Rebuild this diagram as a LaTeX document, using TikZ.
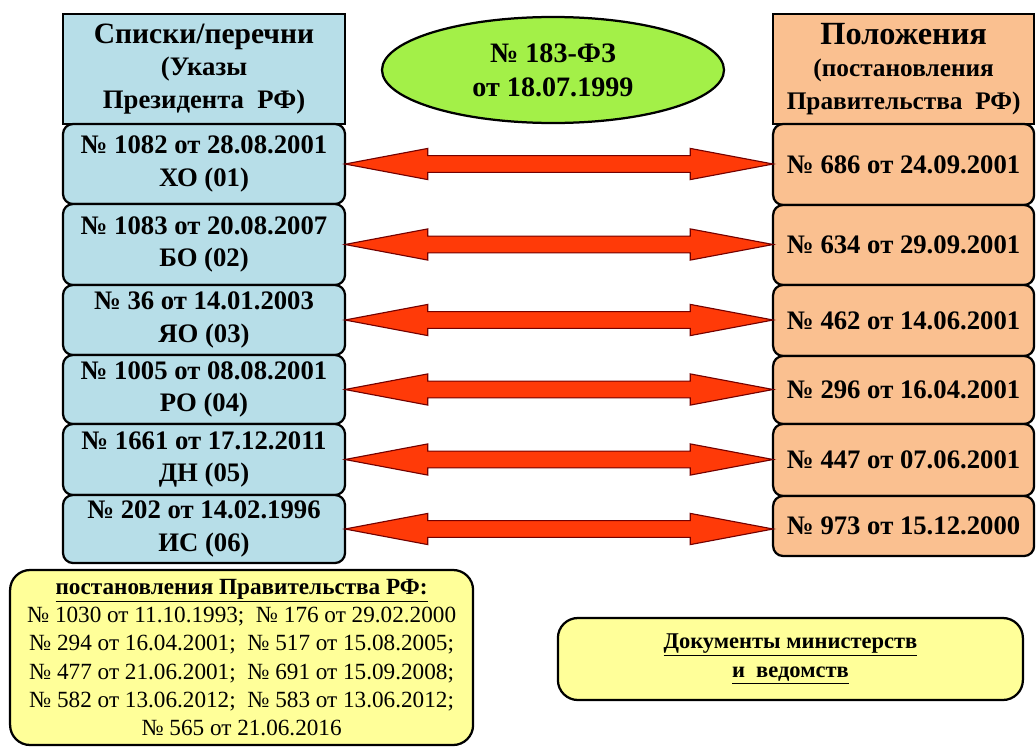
\documentclass[tikz,border=0pt]{standalone}
\usepackage{fontspec}
\setmainfont{Liberation Serif}
\usetikzlibrary{shapes,positioning,calc}
\definecolor{listblue}{RGB}{183,222,232}
\definecolor{rulepeach}{RGB}{250,192,144}
\definecolor{lawgreen}{RGB}{163,240,72}
\definecolor{noteyellow}{RGB}{255,255,153}
\definecolor{linkred}{RGB}{255,58,8}
\tikzset{
  box/.style       = {draw, line width=1.6pt, outer sep=0pt, inner sep=2pt, align=center},
  head/.style      = {box, font=\bfseries\fontsize{19}{23}\selectfont},
  lrow/.style      = {box, rounded corners=0.25cm, fill=listblue, minimum width=7.05cm,
                      font=\bfseries\fontsize{19}{23}\selectfont},
  rrow/.style      = {box, rounded corners=0.25cm, fill=rulepeach, minimum width=6.525cm,
                      font=\bfseries\fontsize{19}{23}\selectfont},
  note/.style      = {box, rounded corners=0.5cm, fill=noteyellow},
  fatarrow/.style  = {draw=red!45!black, fill=linkred, line width=0.8pt,
    to path={let \p1=(\tikztostart), \p2=(\tikztotarget) in
      (\x1,\y1) -- (\x1+2.07cm,\y1+0.39cm) -- (\x1+2.07cm,\y1+0.21cm)
      -- (\x2-2.07cm,\y1+0.21cm) -- (\x2-2.07cm,\y1+0.39cm) -- (\x2,\y1)
      -- (\x2-2.07cm,\y1-0.39cm) -- (\x2-2.07cm,\y1-0.21cm)
      -- (\x1+2.07cm,\y1-0.21cm) -- (\x1+2.07cm,\y1-0.39cm) -- cycle}}
}
\begin{document}
\begin{tikzpicture}
      \useasboundingbox (0,0) rectangle (25.9,-18.675);
      %Headers
      \node[head, fill=listblue, minimum width=7.05cm, minimum height=2.75cm, anchor=north] (lhead) at (5.1,-0.35)
      {{\fontsize{21}{25}\selectfont Списки/перечни}\\(Указы\\Президента~ РФ)};
      \node[head, fill=rulepeach, minimum width=6.525cm, minimum height=2.75cm, anchor=north] (rhead) at (22.59,-0.35)
      {{\fontsize{23}{25}\selectfont Положения}\\{\fontsize{18}{22}\selectfont (постановления}\\{\fontsize{18}{22}\selectfont Правительства~ РФ)}};
      \node[ellipse, draw, line width=1.6pt, fill=lawgreen, minimum width=8.55cm, minimum height=2.65cm, align=center,
            font=\bfseries\fontsize{20}{24}\selectfont] (law) at (13.825,-1.75) {№ 183-ФЗ\\от 18.07.1999};
      %Left column
      \node[lrow, minimum height=2.0cm] (l1) [below=0pt of lhead] {№ 1082 от 28.08.2001\\ХО (01)};
      \node[lrow, minimum height=2.025cm] (l2) [below=0pt of l1] {№ 1083 от 20.08.2007\\БО (02)};
      \node[lrow, minimum height=1.75cm] (l3) [below=0pt of l2] {№ 36 от 14.01.2003\\ЯО (03)};
      \node[lrow, minimum height=1.725cm] (l4) [below=0pt of l3] {№ 1005 от 08.08.2001\\РО (04)};
      \node[lrow, minimum height=1.775cm] (l5) [below=0pt of l4] {№ 1661 от 17.12.2011\\ДН (05)};
      \node[lrow, minimum height=1.7cm] (l6) [below=0pt of l5] {№ 202 от 14.02.1996\\ИС (06)};
      %Right column
      \node[rrow, minimum height=2.025cm] (r1) [below=0pt of rhead] {№ 686 от 24.09.2001};
      \node[rrow, minimum height=2.0cm] (r2) [below=0pt of r1] {№ 634 от 29.09.2001};
      \node[rrow, minimum height=1.775cm] (r3) [below=0pt of r2] {№ 462 от 14.06.2001};
      \node[rrow, minimum height=1.7cm] (r4) [below=0pt of r3] {№ 296 от 16.04.2001};
      \node[rrow, minimum height=1.8cm] (r5) [below=0pt of r4] {№ 447 от 07.06.2001};
      \node[rrow, minimum height=1.5cm] (r6) [below=0pt of r5] {№ 973 от 15.12.2000};
      %Links
      \draw[fatarrow] (l1.east) to (r1.west);
      \draw[fatarrow] (l2.east) to (r2.west);
      \draw[fatarrow] (l3.east) to (r3.west);
      \draw[fatarrow] (l4.east) to (r4.west);
      \draw[fatarrow] (l5.east) to (r5.west);
      \draw[fatarrow] (l6.east) to (r6.west);
      %Notes
      \node[note, minimum width=11.575cm, minimum height=4.375cm, anchor=north,
            font=\fontsize{16.5}{20}\selectfont] (gov) at (6.04,-14.25)
      {\textbf{\underline{постановления Правительства РФ:}}\\
       № 1030 от 11.10.1993;~ № 176 от 29.02.2000\\
       № 294 от 16.04.2001;~ № 517 от 15.08.2005;\\
       № 477 от 21.06.2001;~ № 691 от 15.09.2008;\\
       № 582 от 13.06.2012;~ № 583 от 13.06.2012;\\
       № 565 от 21.06.2016};
      \node[note, minimum width=11.625cm, minimum height=2.05cm,
            font=\bfseries\fontsize{16}{20}\selectfont] (min) at (19.76,-16.475)
      {\underline{Документы министерств}\\\underline{и~ ведомств}};
\end{tikzpicture}
\end{document}
